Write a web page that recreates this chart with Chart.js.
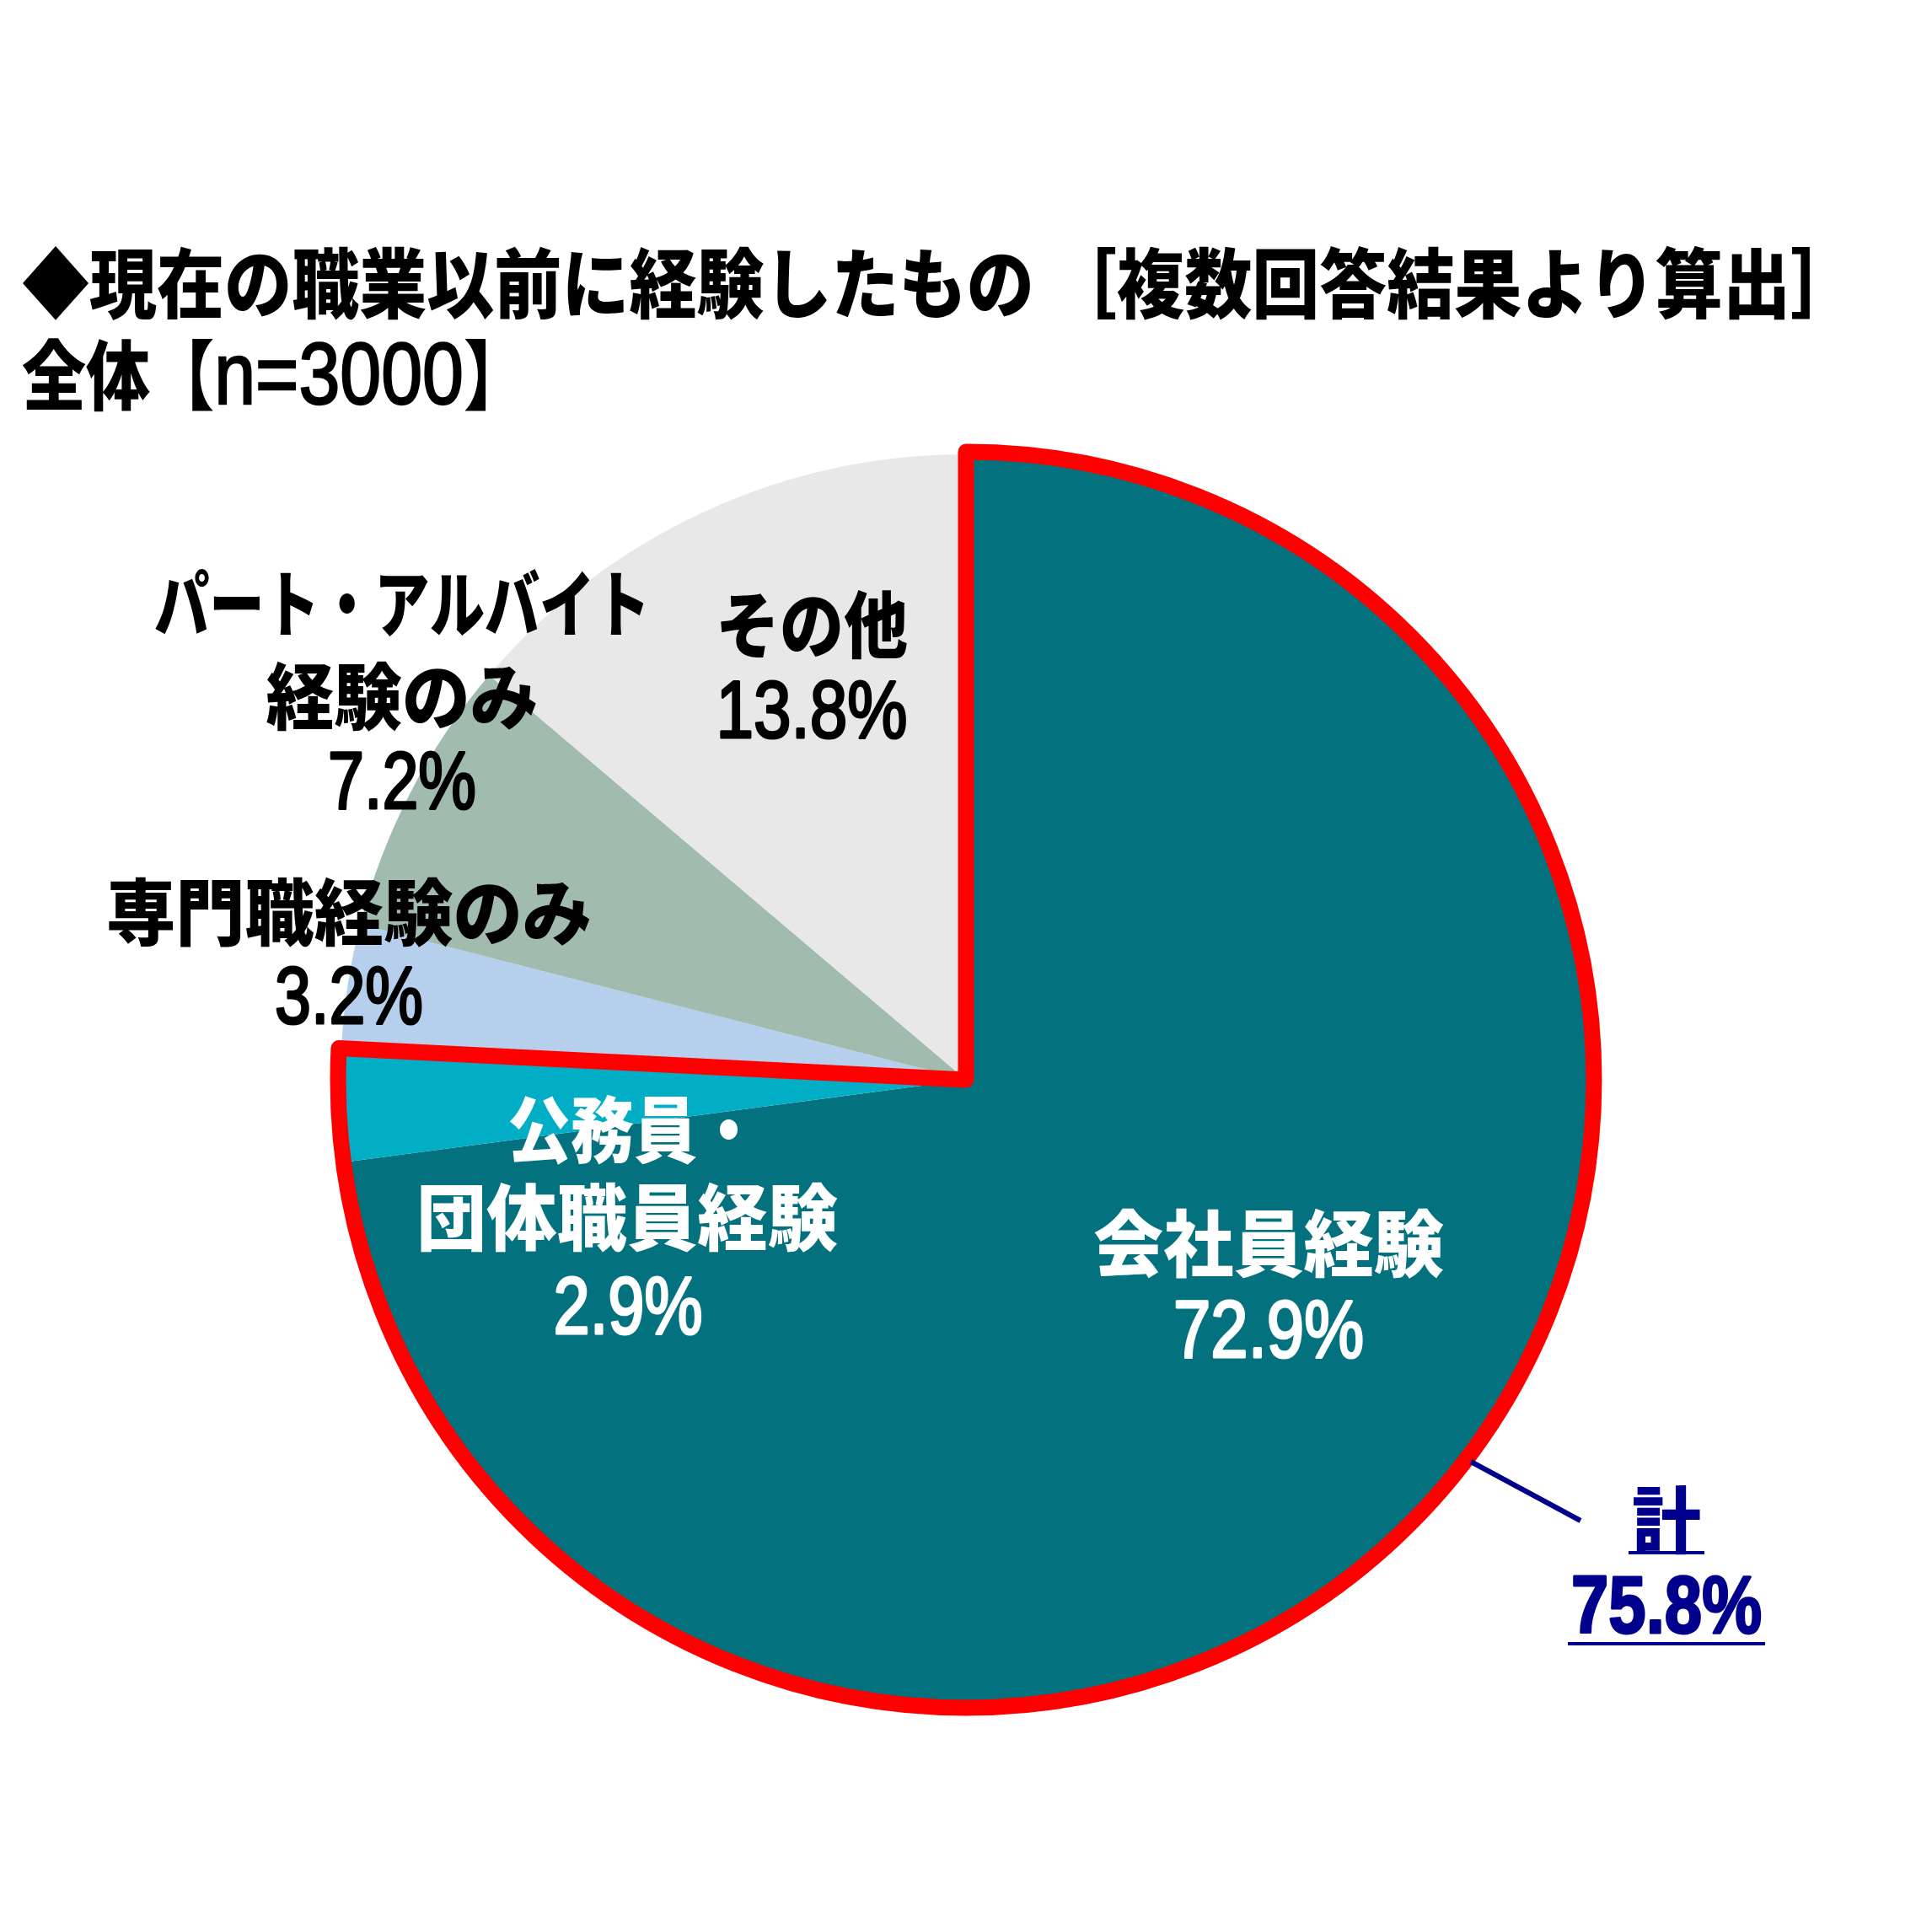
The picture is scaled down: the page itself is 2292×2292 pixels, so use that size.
<!DOCTYPE html>
<html><head><meta charset="utf-8">
<script src="https://cdn.jsdelivr.net/npm/chart.js@4/dist/chart.umd.min.js"></script>
<style>
html,body{margin:0;padding:0;background:#fff;}
#wrap{position:relative;width:2292px;height:2292px;overflow:hidden;background:#fff;}
canvas{position:absolute;left:0;top:0;}
.ttl{position:absolute;left:26px;white-space:nowrap;font-family:"Noto Sans CJK JP";font-weight:900;font-size:90px;line-height:90px;color:#000;transform-origin:0 0;}
.ttl .asc{font-family:"Liberation Sans";font-weight:400;font-size:104px;-webkit-text-stroke:2.5px #000;}
</style></head><body>
<div id="wrap">
<canvas id="c" width="2292" height="2292"></canvas>
<div class="ttl" id="t1"></div>
<div class="ttl" id="t2"></div>
</div>
<script>
// ---- data ----
const titleLines = ['◆現在の職業以前に経験したもの ［複数回答結果より算出］', '全体【n=3000】'];
const categories = ['会社員経験', '公務員・\n団体職員経験', '専門職経験のみ', 'パート・アルバイト\n経験のみ', 'その他'];
const values = [72.9, 2.9, 3.2, 7.2, 13.8];
const groupName = '計';
const groupIdx = [0, 1];

// ---- styles / layout ----
const sliceColors = ['#04727E', '#02ADC6', '#B5CFEC', '#A1BCAE', '#E8E8E8'];
const labelColors = ['#FFFFFF', '#FFFFFF', '#000000', '#000000', '#000000'];
const navy = '#00008C';
const redLine = '#FF0000';
const nameFont = '900 86px "Noto Sans CJK JP"';
const pctFont = '400 97px "Liberation Sans"';
const totPctFont = '700 96px "Liberation Sans"';
// per label: x centre, y centres per line, target widths per line
const labelLayout = [
  {x: 1505, ys: [1475, 1583], ws: [416, 226]},
  {x: 744, xs: [752, 744, 745], ys: [1340, 1444, 1555], ws: [300, 500, 177]},
  {x: 414, ys: [1082, 1187], ws: [576, 176]},
  {x: 477, ys: [716, 826, 932], ws: [588, 323, 176]},
  {x: 963, ys: [741, 848], ws: [228, 227]}
];
const totalLayout = {x: 1977, ys: [1803, 1911], ws: [82, 226], underline: 39};
const leaderAngleDeg = 37.1;
const leaderEnd = {x: 1875, y: 1804};

// title
const tW = [2178, 600];
const tY = [286, 395];
[0, 1].forEach(i => {
  const el = document.getElementById('t' + (i + 1));
  el.textContent = titleLines[i];
  el.innerHTML = el.innerHTML.replace(/([A-Za-z0-9=]+)/g, '<span class="asc">$1</span>');
  el.style.top = tY[i] + 'px';
  const w = el.getBoundingClientRect().width;
  el.style.transform = 'scaleX(' + (tW[i] / w) + ')';
});

function fitText(ctx, text, x, y, w, strokeW) {
  const m = ctx.measureText(text).width;
  const s = w / m;
  ctx.save();
  ctx.translate(x, y);
  ctx.scale(s, 1);
  ctx.fillText(text, 0, 0);
  if (strokeW) {
    ctx.lineWidth = strokeW;
    ctx.strokeStyle = ctx.fillStyle;
    ctx.lineJoin = 'round';
    ctx.strokeText(text, 0, 0);
  }
  ctx.restore();
}

const overlay = {
  id: 'overlay',
  afterDatasetsDraw(chart) {
    const ctx = chart.ctx;
    const arcs = chart.getDatasetMeta(0).data;
    const a0 = arcs[groupIdx[0]].getProps(['x', 'y', 'startAngle', 'endAngle', 'outerRadius'], true);
    const a1 = arcs[groupIdx[groupIdx.length - 1]].getProps(['x', 'y', 'startAngle', 'endAngle', 'outerRadius'], true);
    const cx = a0.x, cy = a0.y, R = a0.outerRadius + 3;
    // red outline around the group
    ctx.save();
    ctx.beginPath();
    ctx.moveTo(cx, cy);
    ctx.arc(cx, cy, R, a0.startAngle, a1.endAngle);
    ctx.closePath();
    ctx.lineWidth = 19;
    ctx.lineJoin = 'round';
    ctx.strokeStyle = redLine;
    ctx.stroke();
    ctx.restore();

    // labels
    ctx.save();
    ctx.textAlign = 'center';
    ctx.textBaseline = 'middle';
    values.forEach((v, i) => {
      const L = labelLayout[i];
      const lines = categories[i].split('\n');
      lines.push(v.toFixed(1) + '%');
      ctx.fillStyle = labelColors[i];
      lines.forEach((t, j) => {
        const isPct = j === lines.length - 1;
        ctx.font = isPct ? pctFont : nameFont;
        const x = L.xs ? L.xs[j] : L.x;
        fitText(ctx, t, x, L.ys[j], L.ws[j], isPct ? 3.2 : 0);
      });
    });

    // total label with leader
    const tot = groupIdx.reduce((s, i) => s + values[i], 0);
    const ang = leaderAngleDeg * Math.PI / 180;
    const r2 = a0.outerRadius + 9;
    ctx.strokeStyle = navy;
    ctx.lineWidth = 6;
    ctx.beginPath();
    ctx.moveTo(cx + r2 * Math.cos(ang), cy + r2 * Math.sin(ang));
    ctx.lineTo(leaderEnd.x, leaderEnd.y);
    ctx.stroke();
    ctx.fillStyle = navy;
    const tl = [groupName, tot.toFixed(1) + '%'];
    tl.forEach((t, j) => {
      ctx.font = j === 0 ? nameFont : totPctFont;
      fitText(ctx, t, totalLayout.x, totalLayout.ys[j], totalLayout.ws[j], j === 0 ? 0 : 3);
      const w = totalLayout.ws[j] + 8;
      ctx.fillRect(totalLayout.x - w / 2, totalLayout.ys[j] + totalLayout.underline - 2, w, 4);
    });
    ctx.restore();
  }
};

new Chart(document.getElementById('c'), {
  type: 'pie',
  data: {
    labels: categories,
    datasets: [{
      data: values,
      backgroundColor: sliceColors,
      borderWidth: 0,
      hoverOffset: 0
    }]
  },
  options: {
    responsive: false,
    animation: false,
    devicePixelRatio: 1,
    layout: {padding: {left: 404, right: 404, top: 539, bottom: 269}},
    plugins: {legend: {display: false}, tooltip: {enabled: false}, title: {display: false}}
  },
  plugins: [overlay]
});
</script>
</body></html>
